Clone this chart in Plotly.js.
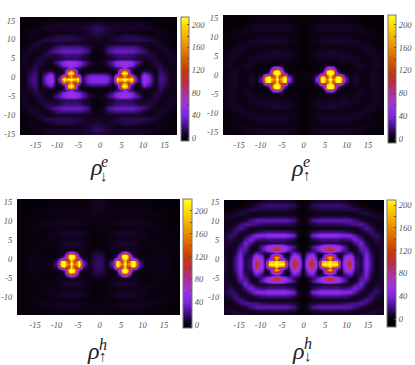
<!DOCTYPE html>
<html>
<head>
<meta charset="utf-8">
<script src="https://cdn.plot.ly/plotly-3.0.1.min.js"></script>
<style>
html, body { margin: 0; padding: 0; background: #fff; }
#myPlot { width: 415px; height: 365px; }
</style>
</head>
<body>
<div id="myPlot"></div>
<script>
// distance from the mirror centre of each map, rows go outwards from it
var uGrid = [0, 1.2, 2.2, 3.5, 4.1, 4.5, 5, 5.6, 6.2, 6.8, 7.4, 7.9, 8.3, 8.8, 9.6, 10.9, 12.2, 13.4, 14.6, 15.8, 17, 19];
var vGrid = [0, 0.6, 1.1, 1.7, 2.3, 2.9, 3.7, 4.5, 5.5, 6.5, 7.5, 8.5, 9.5, 10.5, 11.5, 12.5, 13.5, 14.5, 15.5, 16.5, 17.5];

var rhoEDown = [
    [42, 44, 38, 14, 80, 230, 190, 215, 240, 215, 190, 230, 180, 45, 6, 62, 32, 3, 22, 16, 3, 6],
    [40, 42, 36, 10, 60, 165, 135, 125, 165, 125, 135, 165, 125, 32, 5, 60, 30, 3, 21, 16, 3, 6],
    [32, 34, 28, 6, 30, 60, 80, 135, 175, 135, 80, 60, 45, 15, 4, 52, 26, 3, 20, 15, 3, 6],
    [14, 15, 12, 3, 8, 16, 70, 195, 235, 195, 70, 16, 8, 4, 3, 34, 16, 3, 18, 13, 3, 5],
    [3, 3, 3, 3, 4, 16, 50, 140, 180, 140, 50, 16, 5, 3, 2, 14, 7, 4, 16, 10, 3, 5],
    [1, 1, 2, 8, 14, 16, 18, 32, 48, 32, 18, 16, 14, 8, 2, 3, 3, 6, 15, 7, 3, 5],
    [2, 4, 10, 25, 36, 42, 48, 52, 54, 52, 48, 42, 36, 24, 10, 2, 3, 10, 12, 4, 4, 4],
    [3, 6, 14, 30, 40, 46, 52, 56, 58, 56, 52, 46, 40, 30, 22, 5, 4, 12, 8, 3, 5, 4],
    [1, 2, 5, 10, 13, 14, 15, 15, 15, 15, 15, 14, 13, 12, 8, 5, 10, 10, 4, 3, 6, 3],
    [0, 2, 8, 14, 16, 17, 18, 19, 20, 19, 18, 17, 16, 14, 10, 12, 12, 6, 3, 5, 6, 2],
    [1, 5, 20, 30, 32, 33, 33, 33, 33, 33, 33, 33, 32, 30, 24, 20, 8, 3, 4, 8, 4, 1],
    [2, 5, 14, 20, 22, 22, 22, 22, 22, 22, 22, 22, 22, 20, 18, 8, 3, 4, 8, 6, 2, 1],
    [3, 3, 4, 5, 5, 6, 6, 6, 6, 6, 6, 6, 7, 7, 6, 4, 4, 8, 8, 3, 1, 0],
    [6, 6, 5, 8, 10, 11, 12, 13, 14, 14, 14, 14, 14, 14, 14, 14, 12, 8, 3, 2, 1, 0],
    [10, 8, 6, 8, 9, 10, 10, 11, 12, 12, 12, 12, 12, 12, 11, 8, 4, 3, 2, 2, 1, 0],
    [14, 12, 8, 5, 4, 3, 3, 3, 3, 3, 3, 3, 3, 3, 3, 2, 2, 3, 4, 3, 1, 0],
    [16, 14, 10, 8, 7, 7, 7, 7, 7, 7, 7, 8, 8, 8, 5, 6, 6, 4, 2, 1, 0, 0],
    [10, 9, 7, 6, 6, 6, 6, 6, 6, 6, 6, 6, 6, 6, 6, 5, 3, 1, 1, 0, 0, 0],
    [3, 3, 3, 2, 2, 2, 2, 2, 2, 2, 2, 2, 2, 2, 2, 2, 1, 0, 0, 0, 0, 0],
    [1, 1, 1, 1, 1, 1, 1, 1, 1, 1, 1, 1, 1, 1, 1, 1, 0, 0, 0, 0, 0, 0],
    [0, 0, 0, 0, 0, 0, 0, 0, 0, 0, 0, 0, 0, 0, 0, 0, 0, 0, 0, 0, 0, 0]
];

var rhoEUp = [
    [1, 2, 4, 60, 210, 245, 190, 150, 240, 150, 190, 245, 240, 200, 35, 2, 8, 2, 1, 8, 6, 1],
    [1, 2, 4, 45, 190, 235, 160, 120, 200, 120, 160, 235, 230, 170, 28, 2, 8, 2, 1, 8, 6, 1],
    [1, 2, 3, 22, 100, 130, 90, 150, 210, 150, 90, 130, 110, 70, 14, 2, 7, 2, 1, 8, 6, 1],
    [1, 1, 2, 4, 24, 40, 100, 225, 245, 225, 100, 40, 24, 12, 4, 1, 6, 2, 2, 7, 5, 1],
    [0, 1, 1, 2, 8, 18, 80, 200, 235, 200, 80, 18, 8, 3, 2, 1, 3, 2, 2, 6, 4, 1],
    [0, 0, 1, 1, 2, 6, 26, 70, 95, 70, 26, 6, 2, 1, 1, 1, 3, 6, 3, 2, 6, 3],
    [0, 0, 0, 1, 1, 1, 2, 3, 4, 3, 2, 1, 1, 2, 2, 2, 4, 6, 3, 2, 6, 3],
    [0, 0, 1, 2, 2, 2, 2, 2, 2, 2, 2, 2, 3, 4, 5, 4, 6, 5, 2, 3, 6, 3],
    [0, 1, 3, 5, 5, 5, 5, 5, 6, 5, 5, 5, 5, 6, 8, 6, 6, 3, 2, 4, 6, 2],
    [0, 1, 3, 6, 7, 7, 7, 8, 8, 8, 7, 7, 7, 7, 7, 7, 4, 2, 3, 6, 5, 2],
    [0, 1, 3, 5, 6, 6, 7, 8, 8, 8, 7, 6, 5, 4, 3, 3, 2, 3, 5, 6, 3, 1],
    [0, 0, 2, 2, 3, 2, 2, 2, 2, 2, 2, 2, 2, 3, 3, 3, 3, 5, 6, 4, 2, 1],
    [0, 1, 3, 4, 5, 6, 6, 6, 6, 6, 6, 6, 6, 6, 6, 7, 6, 6, 4, 2, 1, 0],
    [0, 1, 3, 5, 7, 8, 8, 8, 8, 8, 8, 8, 8, 8, 8, 7, 5, 3, 2, 2, 1, 0],
    [0, 1, 2, 3, 3, 3, 3, 3, 4, 4, 4, 4, 4, 4, 4, 3, 2, 2, 3, 3, 1, 0],
    [0, 1, 3, 3, 3, 3, 3, 3, 3, 3, 3, 3, 3, 4, 4, 4, 3, 4, 4, 2, 1, 0],
    [0, 1, 4, 6, 6, 6, 6, 6, 6, 6, 6, 6, 6, 6, 6, 6, 5, 3, 1, 1, 0, 0],
    [0, 1, 3, 4, 5, 5, 5, 5, 5, 5, 5, 5, 5, 5, 5, 4, 2, 1, 0, 0, 0, 0],
    [0, 1, 1, 1, 2, 2, 2, 2, 2, 2, 2, 2, 2, 2, 1, 1, 1, 0, 0, 0, 0, 0],
    [0, 0, 1, 2, 2, 2, 3, 3, 3, 3, 3, 3, 2, 2, 2, 1, 1, 0, 0, 0, 0, 0],
    [0, 0, 1, 1, 1, 1, 1, 1, 1, 1, 1, 1, 1, 1, 1, 0, 0, 0, 0, 0, 0, 0]
];

var rhoHUp = [
    [16, 12, 3, 35, 190, 240, 175, 145, 235, 145, 175, 240, 235, 170, 28, 2, 3, 2, 3, 3, 1, 0],
    [16, 12, 3, 28, 170, 230, 150, 115, 200, 115, 150, 230, 220, 140, 22, 2, 3, 2, 3, 3, 1, 0],
    [16, 12, 3, 16, 80, 120, 80, 140, 200, 140, 80, 120, 95, 55, 11, 2, 3, 2, 3, 3, 1, 0],
    [15, 11, 3, 3, 18, 35, 85, 210, 240, 210, 85, 35, 18, 8, 3, 2, 3, 2, 3, 3, 1, 0],
    [13, 10, 2, 2, 7, 16, 70, 190, 230, 190, 70, 16, 7, 3, 2, 1, 2, 2, 3, 2, 1, 0],
    [10, 7, 2, 2, 3, 6, 24, 60, 85, 60, 24, 6, 3, 3, 2, 1, 1, 2, 2, 2, 1, 0],
    [5, 3, 1, 4, 4, 3, 2, 3, 4, 3, 2, 3, 4, 4, 3, 1, 1, 2, 2, 1, 1, 0],
    [1, 1, 2, 5, 6, 6, 6, 6, 6, 6, 6, 6, 5, 5, 3, 1, 1, 3, 2, 1, 1, 0],
    [0, 1, 3, 5, 7, 8, 8, 8, 9, 8, 8, 8, 7, 5, 3, 2, 3, 3, 1, 1, 1, 0],
    [0, 1, 2, 2, 3, 3, 3, 4, 4, 4, 3, 3, 3, 3, 3, 3, 3, 1, 1, 1, 1, 0],
    [1, 1, 2, 4, 5, 6, 7, 7, 7, 7, 7, 6, 6, 5, 4, 4, 2, 1, 1, 2, 1, 0],
    [1, 1, 3, 4, 6, 7, 7, 7, 7, 7, 7, 7, 6, 5, 4, 3, 1, 1, 2, 2, 1, 0],
    [2, 1, 1, 1, 1, 1, 2, 2, 2, 2, 2, 2, 2, 3, 3, 2, 2, 3, 3, 1, 0, 0],
    [3, 2, 2, 3, 4, 4, 5, 5, 5, 5, 5, 5, 5, 5, 5, 5, 4, 3, 1, 1, 0, 0],
    [3, 3, 3, 3, 4, 4, 4, 4, 5, 5, 5, 5, 5, 5, 4, 3, 2, 1, 1, 1, 0, 0],
    [2, 2, 2, 2, 1, 1, 1, 1, 1, 1, 1, 1, 1, 2, 2, 2, 1, 1, 1, 1, 0, 0],
    [5, 4, 3, 3, 3, 3, 3, 3, 3, 3, 3, 3, 3, 3, 3, 3, 2, 2, 1, 0, 0, 0],
    [5, 5, 3, 3, 3, 3, 3, 3, 3, 3, 3, 3, 3, 3, 2, 2, 1, 0, 0, 0, 0, 0],
    [6, 5, 3, 1, 1, 1, 1, 1, 1, 1, 1, 1, 1, 1, 1, 1, 0, 0, 0, 0, 0, 0],
    [7, 6, 3, 1, 1, 1, 1, 1, 1, 1, 1, 1, 1, 1, 1, 0, 0, 0, 0, 0, 0, 0],
    [2, 2, 1, 0, 0, 0, 0, 0, 0, 0, 0, 0, 0, 0, 0, 0, 0, 0, 0, 0, 0, 0]
];

var rhoHDown = [
    [2, 80, 112, 25, 150, 205, 215, 205, 215, 205, 215, 205, 120, 12, 60, 105, 20, 10, 46, 20, 3, 14],
    [2, 75, 102, 20, 100, 170, 180, 180, 210, 180, 180, 170, 80, 10, 55, 100, 20, 10, 45, 20, 3, 14],
    [2, 65, 90, 12, 40, 60, 55, 100, 160, 100, 55, 60, 30, 8, 50, 85, 18, 10, 44, 19, 3, 14],
    [1, 55, 75, 6, 12, 20, 50, 150, 180, 150, 50, 20, 10, 5, 42, 70, 14, 10, 42, 18, 3, 13],
    [1, 40, 55, 3, 5, 12, 40, 90, 110, 90, 40, 12, 5, 3, 30, 50, 11, 12, 40, 15, 3, 12],
    [1, 25, 35, 8, 10, 12, 14, 25, 35, 25, 14, 12, 10, 8, 16, 30, 5, 16, 38, 12, 3, 11],
    [0, 6, 15, 35, 50, 60, 75, 95, 108, 95, 75, 60, 50, 35, 25, 8, 4, 26, 32, 8, 4, 11],
    [0, 3, 22, 40, 55, 62, 72, 85, 92, 85, 72, 62, 55, 42, 28, 4, 6, 32, 24, 5, 6, 10],
    [0, 1, 5, 8, 10, 12, 13, 13, 13, 13, 13, 12, 10, 8, 8, 6, 22, 38, 12, 4, 9, 8],
    [0, 2, 12, 18, 20, 20, 20, 20, 20, 20, 20, 20, 20, 18, 18, 24, 40, 22, 5, 7, 14, 6],
    [0, 6, 34, 46, 50, 52, 52, 52, 52, 52, 52, 52, 50, 46, 44, 44, 26, 7, 5, 13, 18, 4],
    [0, 4, 14, 20, 22, 22, 22, 22, 22, 22, 22, 22, 22, 20, 20, 14, 6, 5, 11, 20, 11, 3],
    [0, 1, 2, 3, 3, 3, 3, 3, 3, 3, 3, 3, 3, 4, 4, 4, 4, 14, 24, 16, 4, 3],
    [0, 4, 10, 13, 14, 14, 14, 14, 14, 14, 14, 14, 15, 15, 16, 20, 24, 26, 18, 6, 3, 4],
    [0, 8, 22, 28, 30, 30, 30, 30, 30, 30, 30, 30, 30, 30, 30, 28, 20, 10, 4, 3, 6, 5],
    [0, 3, 7, 8, 9, 9, 9, 9, 9, 9, 9, 9, 9, 9, 9, 7, 4, 4, 4, 8, 9, 4],
    [0, 1, 1, 2, 2, 2, 3, 3, 3, 3, 3, 3, 3, 3, 3, 3, 4, 10, 12, 8, 4, 1],
    [0, 3, 9, 11, 12, 12, 12, 12, 12, 12, 12, 12, 12, 12, 12, 14, 14, 8, 4, 1, 0, 0],
    [0, 5, 14, 16, 18, 18, 18, 18, 18, 18, 18, 18, 18, 16, 16, 11, 4, 1, 0, 0, 0, 0],
    [0, 2, 6, 8, 9, 9, 9, 9, 9, 9, 9, 9, 9, 8, 7, 3, 1, 0, 0, 0, 0, 0],
    [0, 1, 2, 2, 3, 3, 3, 3, 3, 3, 3, 3, 3, 2, 2, 1, 0, 0, 0, 0, 0, 0]
];

var axisTicks = [-15, -10, -5, 0, 5, 10, 15];
var axisTickText = ["<i>-15</i>", "<i>-10</i>", "<i>-5</i>", "<i>0</i>", "<i>5</i>", "<i>10</i>", "<i>15</i>"];
var colorTicks = [0, 20, 40, 60, 80, 100, 120, 140, 160, 180, 200];
var colorTickText = ["<i>0</i>", "", "<i>40</i>", "", "<i>80</i>", "", "<i>120</i>", "", "<i>160</i>", "", "<i>200</i>"];

// palette as [value, colour]
var paletteValues = [-15, 0, 10, 20, 40, 60, 80, 100, 120, 140, 160, 180, 200, 222];
var paletteColors = ["#000000", "#060108", "#1e0638", "#3f0e80", "#7f24e6", "#a032e0", "#ab3296", "#bd2c3c", "#c83c04", "#d86000", "#e88a00", "#f4b400", "#ffdc00", "#ffff20"];

var W = 415, H = 365;

// box in page pixels, range of the axes, mirror centre and colour bar of each map
var panels = [
    { z: rhoEDown, box: [20, 177, 17, 135], xr: [-18.6, 17.9], yr: [-15.26, 15.95], x0: -0.58, y0: -0.53, bar: [181, 189, 17, 141], zr: [-5.3, 213.6] },
    { z: rhoEUp, box: [223, 384, 15, 135], xr: [-18.72, 18.72], yr: [-15.87, 15.87], x0: -0.05, y0: -1.14, bar: [388, 396, 15, 143], zr: [-7, 217] },
    { z: rhoHUp, box: [17, 180, 199, 315], xr: [-19.19, 18.72], yr: [-14.81, 15.87], x0: -0.35, y0: -1.24, bar: [183, 192, 199, 328], zr: [-5, 221] },
    { z: rhoHDown, box: [224, 384, 200, 315], xr: [-18.49, 18.72], yr: [-14.81, 15.6], x0: -0.12, y0: -1.24, bar: [387, 396, 200, 327], zr: [-14, 209] }
];

// rho glyphs: [text, x, y, size]
var labels = [
    ["ρ", 96, 167, 24], ["e", 105, 161, 16], ["↓", 104, 176, 15],
    ["ρ", 297, 168, 24], ["e", 306, 162, 16], ["↑", 307, 175, 15],
    ["ρ", 93, 351, 24], ["h", 103, 344, 16], ["↑", 103, 356, 15],
    ["ρ", 298, 351, 24], ["h", 308, 343, 16], ["↓", 308, 356, 15]
];

function mirrorRow(row) {
    return row.slice(1).reverse().concat(row);
}

function centred(grid, c) {
    return mirrorRow(grid).map(function (g, i) {
        return (i < grid.length - 1 ? -g : g) + c;
    });
}

function paletteFor(zr) {
    return paletteValues.map(function (v, i) {
        var f = (v - zr[0]) / (zr[1] - zr[0]);
        return [f, paletteColors[i]];
    }).filter(function (s) {
        return s[0] > 0 && s[0] < 1;
    });
}

function fullScale(zr) {
    var stops = paletteFor(zr);
    stops.unshift([0, "#000000"]);
    stops.push([1, "#ffff20"]);
    return stops;
}

var tickFont = { family: "Liberation Serif", size: 8.5, color: "#555" };
var data = [];
var layout = {
    width: W,
    height: H,
    margin: { l: 0, r: 0, t: 0, b: 0 },
    paper_bgcolor: "#fff",
    plot_bgcolor: "#000",
    showlegend: false,
    annotations: labels.map(function (l) {
        return {
            text: l[0], x: l[1] / W, y: 1 - l[2] / H, xref: "paper", yref: "paper",
            showarrow: false, xanchor: "center", yanchor: "middle",
            font: { family: "Liberation Serif", size: l[3], color: "#222", style: "italic" }
        };
    })
};

panels.forEach(function (p, i) {
    var n = i === 0 ? "" : String(i + 1);
    var rows = p.z.slice(1).reverse().concat(p.z).map(mirrorRow);
    data.push({
        type: "heatmap",
        x: centred(uGrid, p.x0),
        y: centred(vGrid, p.y0),
        z: rows,
        xaxis: "x" + n,
        yaxis: "y" + n,
        zmin: p.zr[0],
        zmax: p.zr[1],
        zsmooth: "best",
        colorscale: fullScale(p.zr),
        hoverinfo: "skip",
        colorbar: {
            x: p.bar[0] / W, xanchor: "left", xpad: 0,
            y: 1 - p.bar[2] / H, yanchor: "top", ypad: 0,
            lenmode: "pixels", len: p.bar[3] - p.bar[2],
            thicknessmode: "pixels", thickness: p.bar[1] - p.bar[0],
            outlinecolor: "#777", outlinewidth: 1,
            tickmode: "array", tickvals: colorTicks, ticktext: colorTickText,
            ticks: "inside", ticklen: 2, tickcolor: "#444", tickwidth: 1,
            tickfont: tickFont
        }
    });
    layout["xaxis" + n] = {
        domain: [p.box[0] / W, p.box[1] / W],
        range: p.xr,
        anchor: "y" + n,
        tickmode: "array", tickvals: axisTicks, ticktext: axisTickText,
        ticks: "outside", ticklen: 2, tickcolor: "rgba(0,0,0,0)",
        showgrid: false, zeroline: false, showline: false,
        tickfont: tickFont
    };
    layout["yaxis" + n] = {
        domain: [1 - p.box[3] / H, 1 - p.box[2] / H],
        range: p.yr,
        anchor: "x" + n,
        tickmode: "array", tickvals: axisTicks, ticktext: axisTickText,
        ticks: "outside", ticklen: 2, tickcolor: "rgba(0,0,0,0)",
        showgrid: false, zeroline: false, showline: false,
        tickfont: tickFont
    };
});

Plotly.newPlot("myPlot", data, layout, { displayModeBar: false, staticPlot: true });
</script>
</body>
</html>
